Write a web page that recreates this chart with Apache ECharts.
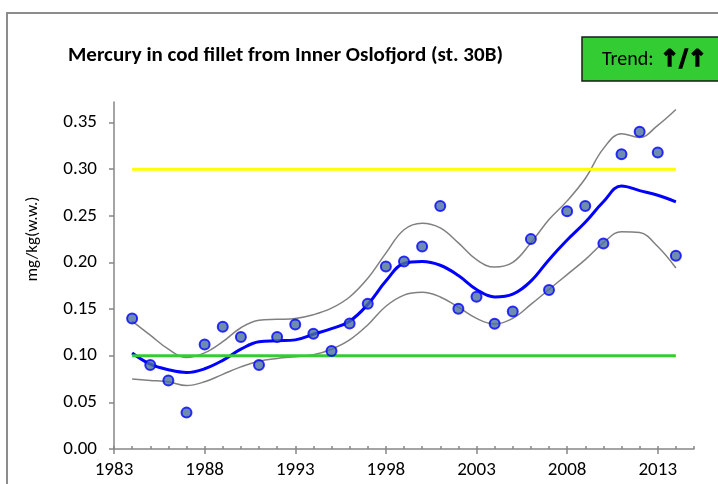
<!DOCTYPE html>
<html>
<head>
<meta charset="utf-8">
<script src="https://cdn.jsdelivr.net/npm/echarts@6/dist/echarts.min.js"></script>
<style>
  html, body { margin: 0; padding: 0; background: #fff; }
  #chart { width: 718px; height: 484px; }
</style>
</head>
<body>
<div id="chart"></div>
<script>
  // years with measurements
  var years = [1984, 1985, 1986, 1987, 1988, 1989, 1990, 1991, 1992, 1993,
    1994, 1995, 1996, 1997, 1998, 1999, 2000, 2001, 2002, 2003,
    2004, 2005, 2006, 2007, 2008, 2009, 2010, 2011, 2012, 2013, 2014]

  // median concentrations (mg/kg w.w.)
  var medians = [0.140, 0.090, 0.0735, 0.039, 0.112, 0.131, 0.120, 0.090, 0.120, 0.1335,
    0.1235, 0.105, 0.1346, 0.1557, 0.1956, 0.201, 0.2171, 0.2604, 0.1503, 0.1632,
    0.1343, 0.1474, 0.225, 0.1705, 0.255, 0.2604, 0.2203, 0.3161, 0.340, 0.3178, 0.2071]

  // smoothed trend and its confidence band
  var trend = [0.103, 0.091, 0.085, 0.082, 0.086, 0.095, 0.107, 0.115, 0.116, 0.117,
    0.123, 0.129, 0.137, 0.155, 0.180, 0.199, 0.201, 0.197, 0.186, 0.171,
    0.163, 0.166, 0.180, 0.203, 0.224, 0.243, 0.265, 0.282, 0.277, 0.272, 0.265]
  var upper = [0.137, 0.122, 0.107, 0.098, 0.103, 0.115, 0.130, 0.138, 0.139, 0.140,
    0.144, 0.151, 0.163, 0.183, 0.210, 0.235, 0.242, 0.237, 0.221, 0.203,
    0.195, 0.200, 0.221, 0.246, 0.266, 0.290, 0.322, 0.338, 0.334, 0.347, 0.364]
  var lower = [0.075, 0.0735, 0.072, 0.068, 0.072, 0.080, 0.088, 0.094, 0.097, 0.099,
    0.101, 0.107, 0.117, 0.133, 0.153, 0.165, 0.168, 0.163, 0.152, 0.140,
    0.134, 0.140, 0.155, 0.171, 0.187, 0.203, 0.221, 0.233, 0.232, 0.217, 0.194]

  // reference levels
  var levelLow = 0.10
  var levelHigh = 0.30

  var yTicks = [0, 0.05, 0.10, 0.15, 0.20, 0.25, 0.30, 0.35]
  var xMajor = [1983, 1988, 1993, 1998, 2003, 2008, 2013]

  var font = 'Carlito, "Liberation Sans", Arial, sans-serif'

  function pairs(vals) {
    return years.map(function (y, i) { return [y, vals[i]] })
  }

  var chart = echarts.init(document.getElementById('chart'))

  var option = {
    animation: false,
    backgroundColor: '#fff',
    grid: {
      left: 114,
      right: 24,
      top: 102,
      bottom: 35
    },
    xAxis: [{
      type: 'value',
      min: 1983,
      max: 2015,
      interval: 1,
      axisLine: { show: true, lineStyle: { color: '#868686', width: 1.5 } },
      axisTick: { show: true, inside: true, length: 3, lineStyle: { color: '#868686', width: 1.5 } },
      axisLabel: {
        margin: 12,
        fontFamily: font,
        fontSize: 19,
        color: '#000',
        formatter: function (v) { return (v - 1983) % 5 === 0 && v < 2015 ? String(v) : '' }
      },
      splitLine: { show: false }
    }, {
      type: 'value',
      position: 'bottom',
      min: 1983,
      max: 2015,
      axisLine: { show: false },
      axisTick: {
        show: true,
        length: 5,
        customValues: xMajor,
        lineStyle: { color: '#868686', width: 1.5 }
      },
      axisLabel: { show: false },
      splitLine: { show: false }
    }],
    yAxis: {
      type: 'value',
      min: 0,
      max: 0.372,
      axisLine: { show: true, lineStyle: { color: '#868686', width: 1.5 } },
      axisTick: {
        show: true,
        length: 5,
        customValues: yTicks,
        lineStyle: { color: '#868686', width: 1.5 }
      },
      axisLabel: {
        margin: 17,
        fontFamily: font,
        fontSize: 19,
        color: '#000',
        customValues: yTicks,
        formatter: function (v) { return v.toFixed(2) }
      },
      splitLine: { show: false }
    },
    series: [
      {
        name: 'upper',
        type: 'line',
        smooth: 0.4,
        symbol: 'none',
        lineStyle: { color: '#808080', width: 1.5 },
        z: 2,
        data: pairs(upper)
      },
      {
        name: 'lower',
        type: 'line',
        smooth: 0.4,
        symbol: 'none',
        lineStyle: { color: '#808080', width: 1.5 },
        z: 2,
        data: pairs(lower)
      },
      {
        name: 'trend',
        type: 'line',
        smooth: 0.4,
        symbol: 'none',
        lineStyle: { color: '#0000ff', width: 3 },
        z: 3,
        data: pairs(trend)
      },
      {
        name: 'high',
        type: 'line',
        symbol: 'none',
        lineStyle: { color: '#ffff00', width: 3 },
        z: 4,
        data: [[years[0], levelHigh], [years[years.length - 1], levelHigh]]
      },
      {
        name: 'low',
        type: 'line',
        symbol: 'none',
        lineStyle: { color: '#33cc33', width: 3 },
        z: 4,
        data: [[years[0], levelLow], [years[years.length - 1], levelLow]]
      },
      {
        name: 'median',
        type: 'scatter',
        symbol: 'circle',
        symbolSize: 10,
        itemStyle: { color: '#4a6f9c', borderColor: '#0000ff', borderWidth: 2 },
        z: 5,
        data: pairs(medians)
      }
    ],
    graphic: [
      {
        type: 'rect',
        shape: { x: 7, y: 13, width: 730, height: 490 },
        style: { fill: null, stroke: '#8c8c8c', lineWidth: 2 },
        silent: true
      },
      {
        type: 'text',
        x: 68,
        y: 56,
        style: {
          text: 'Mercury in cod fillet from Inner Oslofjord (st. 30B)',
          font: 'bold 21px ' + font,
          fill: '#000',
          verticalAlign: 'middle'
        }
      },
      {
        type: 'rect',
        shape: { x: 582, y: 37, width: 146, height: 44 },
        style: { fill: '#33cc33', stroke: '#1a1a1a', lineWidth: 1.5 }
      },
      {
        type: 'text',
        x: 602,
        y: 60,
        style: {
          text: 'Trend:',
          font: '20px ' + font,
          fill: '#000',
          verticalAlign: 'middle'
        }
      },
      {
        type: 'text',
        x: 660,
        y: 60,
        style: {
          text: '\u2191/\u2191',
          font: 'bold 23px "DejaVu Sans"',
          fill: '#000',
          stroke: '#000',
          lineWidth: 1.4,
          verticalAlign: 'middle'
        }
      },
      {
        type: 'text',
        x: 33,
        y: 239,
        rotation: Math.PI / 2,
        style: {
          text: 'mg/kg(w.w.)',
          font: '17px ' + font,
          fill: '#000',
          align: 'center',
          verticalAlign: 'middle'
        }
      }
    ]
  }

  chart.setOption(option)
</script>
</body>
</html>
